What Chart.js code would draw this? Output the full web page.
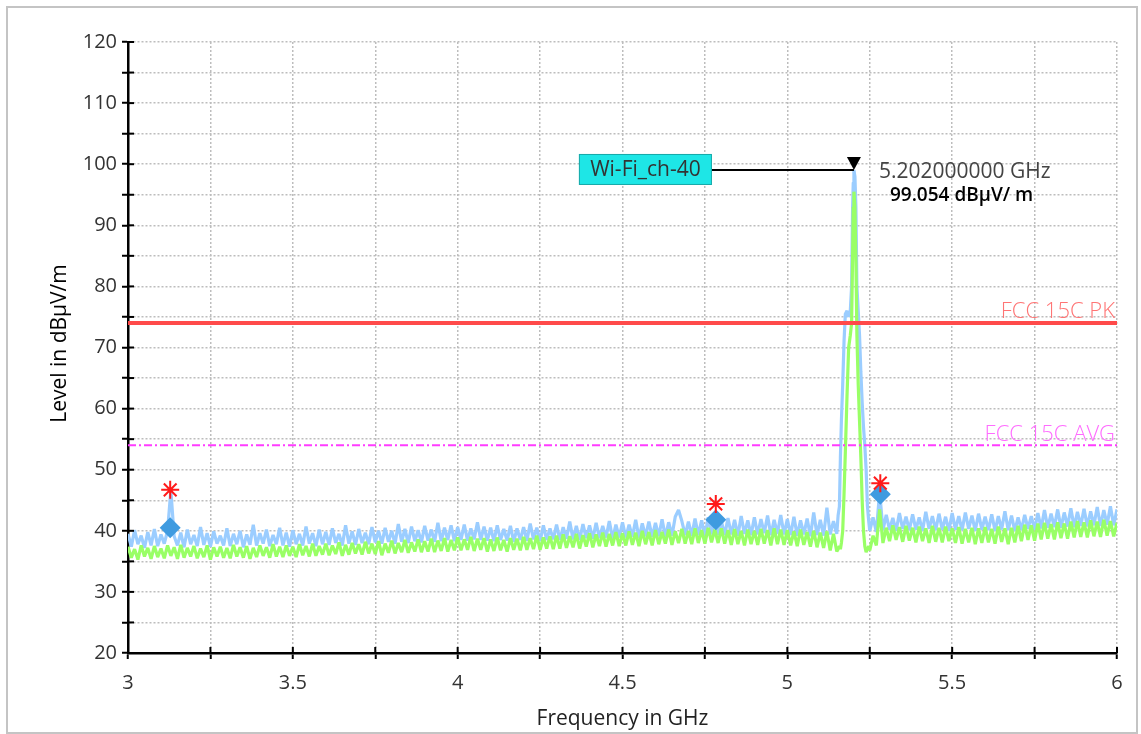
<!DOCTYPE html>
<html>
<head>
<meta charset="utf-8">
<script src="https://cdn.jsdelivr.net/npm/chart.js@4"></script>
<style>
  html, body { margin: 0; padding: 0; background: #fff; }
  #wrap { width: 1141px; height: 734px; position: relative; }
</style>
</head>
<body>
<div id="wrap"><canvas id="scan"></canvas></div>
<script>
// sweep grid (GHz)
const sweepStep = 0.01;
const lowStart = 3.00;   // pkLow / avLow start here
const highStart = 5.25;  // pkHigh / avHigh start here

// peak detector trace, 3.00 .. 5.15 GHz
const pkLow = [
  39.5, 37.4, 40.1, 37.8, 39.2, 37.2, 39.8, 37.6, 40.3, 37.5,
  39.4, 37.9, 40.0, 46.6, 39.1, 37.6, 39.7, 37.3, 40.2, 37.8,
  39.3, 37.5, 40.6, 37.7, 39.6, 37.4, 39.9, 37.9, 39.2, 37.6,
  40.4, 37.5, 39.5, 37.8, 40.0, 37.3, 39.4, 37.7, 41.0, 37.6,
  39.6, 37.9, 40.2, 37.5, 39.3, 37.8, 40.5, 37.6, 39.7, 37.4,
  40.1, 37.8, 39.5, 37.6, 40.7, 37.9, 39.6, 37.5, 40.2, 37.8,
  39.8, 37.7, 40.4, 38.0, 39.5, 37.6, 40.9, 37.9, 39.9, 37.7,
  40.3, 38.0, 39.7, 37.8, 40.6, 38.1, 40.0, 37.9, 40.5, 38.2,
  40.0, 37.9, 41.1, 38.2, 40.3, 38.0, 40.7, 38.3, 40.1, 38.1,
  40.8, 38.4, 40.2, 38.2, 41.3, 38.3, 40.5, 38.5, 40.9, 38.3,
  40.6, 38.5, 41.0, 38.4, 40.4, 38.6, 41.4, 38.5, 40.7, 38.4,
  40.5, 38.3, 40.9, 38.5, 40.3, 38.4, 40.8, 38.2, 40.4, 38.5,
  40.6, 38.4, 41.2, 38.6, 40.5, 38.3, 40.9, 38.5, 40.4, 38.6,
  41.0, 38.5, 40.6, 38.7, 41.5, 38.6, 40.8, 38.5, 41.1, 38.8,
  40.9, 38.7, 41.3, 38.8, 40.8, 38.9, 41.6, 38.7, 41.0, 38.9,
  41.4, 38.9, 41.0, 39.0, 41.8, 38.8, 41.2, 39.1, 41.5, 39.0,
  41.3, 39.1, 41.9, 39.0, 41.4, 39.2, 42.3, 43.4, 41.6, 39.3,
  41.5, 39.2, 42.0, 39.3, 41.7, 39.1, 42.2, 39.4, 42.6, 39.3,
  41.6, 39.3, 42.1, 39.4, 41.8, 39.2, 42.4, 39.5, 41.7, 39.3,
  42.2, 39.4, 41.9, 39.6, 42.5, 39.3, 41.8, 39.5, 42.6, 39.4,
  41.9, 39.3, 42.3, 39.2, 41.7, 39.4, 42.0, 39.1, 43.0, 39.3,
  41.8, 39.2, 43.8, 39.4, 41.6, 39.5
];
// average detector trace, 3.00 .. 5.15 GHz
const avLow = [
  37.4, 35.6, 37.0, 35.3, 37.6, 35.8, 37.2, 35.4, 37.5, 35.7,
  37.1, 35.5, 37.6, 35.9, 37.3, 35.4, 37.7, 35.6, 37.2, 35.8,
  37.5, 35.5, 37.1, 35.7, 37.6, 35.3, 37.3, 35.8, 37.4, 35.6,
  37.2, 35.5, 37.7, 35.8, 37.3, 35.6, 37.5, 35.4, 37.2, 35.7,
  37.6, 35.9, 37.3, 35.6, 37.8, 35.8, 37.4, 35.7, 37.6, 35.9,
  37.4, 35.7, 37.8, 36.0, 37.5, 35.8, 37.9, 35.9, 37.5, 36.1,
  37.9, 36.0, 37.6, 36.2, 38.1, 35.9, 37.7, 36.1, 38.0, 36.3,
  37.8, 36.1, 38.2, 36.3, 37.9, 36.2, 38.3, 36.0, 37.9, 36.4,
  38.4, 36.3, 38.0, 36.5, 38.5, 36.4, 38.1, 36.6, 38.6, 36.5,
  38.3, 36.6, 38.7, 36.5, 38.4, 36.7, 38.8, 36.6, 38.5, 36.8,
  38.9, 36.8, 38.6, 36.9, 39.0, 36.7, 38.7, 36.9, 38.8, 36.6,
  38.6, 36.7, 38.9, 36.8, 38.5, 36.6, 38.8, 36.9, 38.7, 36.8,
  39.0, 36.9, 38.8, 37.0, 39.2, 36.9, 38.9, 37.1, 39.1, 37.0,
  39.2, 37.1, 39.4, 37.2, 39.1, 37.3, 39.5, 37.1, 39.3, 37.4,
  39.6, 37.3, 39.4, 37.5, 39.7, 37.4, 39.5, 37.6, 39.8, 37.5,
  39.6, 37.6, 39.9, 37.7, 39.7, 37.5, 40.0, 37.8, 39.8, 37.6,
  40.1, 37.8, 39.8, 37.9, 40.2, 37.7, 39.9, 38.0, 40.3, 37.9,
  40.0, 37.8, 40.4, 38.0, 40.1, 37.9, 40.5, 38.1, 40.2, 38.0,
  40.4, 37.9, 40.1, 37.7, 40.3, 37.8, 40.0, 37.6, 40.2, 37.8,
  40.0, 37.7, 40.3, 37.9, 40.1, 37.6, 40.4, 37.8, 40.2, 37.7,
  40.1, 37.6, 39.9, 37.5, 40.2, 37.7, 39.8, 37.4, 40.0, 37.3,
  39.7, 37.2, 39.9, 36.8, 39.5, 36.6
];

// Wi-Fi burst around 5.2 GHz
const burstFreqs = [
  5.154, 5.158, 5.161, 5.164, 5.168, 5.172, 5.176, 5.181, 5.186, 5.191,
  5.195, 5.198, 5.200, 5.202, 5.205, 5.208, 5.211, 5.215, 5.219, 5.223,
  5.227, 5.231, 5.235, 5.239, 5.243, 5.247
];
const pkBurst = [
  42.5, 44.0, 52.0, 58.0, 64.0, 71.0, 75.5, 76.0, 75.0, 76.0,
  80.0, 93.0, 97.0, 99.05, 98.0, 93.0, 80.0, 76.0, 72.0, 66.0,
  61.0, 57.0, 54.0, 50.0, 44.0, 41.5
];
const avBurst = [
  37.0, 37.5, 37.0, 38.0, 40.0, 46.0, 53.0, 62.0, 70.0, 72.0,
  74.0, 85.0, 93.0, 95.5, 93.0, 84.0, 72.0, 64.0, 58.0, 52.0,
  45.0, 40.0, 37.5, 36.5, 37.0, 37.5
];

// 5.25 .. 6.00 GHz
const pkHigh = [
  40.0, 42.2, 39.8, 46.4, 40.1,
  42.6, 40.2, 42.1, 40.0, 42.9, 40.3, 42.3, 40.1, 42.7, 40.2,
  42.2, 40.0, 43.1, 40.3, 42.4, 40.1, 42.8, 40.2, 42.3, 40.0,
  42.9, 40.2, 42.4, 40.1, 43.0, 40.3, 42.5, 40.0, 42.8, 40.2,
  42.3, 40.1, 42.7, 40.0, 42.4, 40.2, 43.2, 40.1, 42.5, 40.0,
  42.2, 40.1, 42.6, 40.3, 42.4, 40.2, 42.9, 40.4, 43.4, 40.5,
  42.8, 40.6, 43.5, 40.5, 43.0, 40.7, 43.7, 40.6, 43.1, 40.8,
  43.6, 40.7, 43.2, 40.9, 43.9, 40.8, 43.4, 41.0, 44.0, 40.9,
  43.5
];
const avHigh = [
  36.8, 39.2, 37.6, 43.5, 38.0,
  40.5, 38.3, 40.9, 38.5, 40.6, 38.2, 40.8, 38.4, 40.5, 38.1,
  40.7, 38.3, 40.4, 38.0, 40.8, 38.2, 40.5, 38.1, 40.7, 38.3,
  40.4, 38.0, 40.6, 37.9, 40.3, 38.1, 40.5, 37.8, 40.4, 38.0,
  40.6, 38.1, 40.3, 37.9, 40.7, 38.2, 40.4, 37.8, 40.5, 38.1,
  40.8, 38.3, 41.0, 38.5, 40.9, 38.4, 41.2, 38.6, 41.3, 38.7,
  41.1, 38.6, 41.4, 38.8, 41.2, 38.7, 41.5, 38.9, 41.6, 39.0,
  41.4, 38.9, 41.7, 39.1, 41.5, 39.0, 41.8, 39.2, 41.6, 39.1,
  41.3
];

// final measurement points
const finalFreqs = [3.128, 4.783, 5.282];
const finalPk = [46.7, 44.4, 47.8];
const finalAv = [40.5, 41.8, 46.0];

// limits
const pkLimit = 74;
const avLimit = 54;

// peak marker
const markerFreq = 5.202;
const markerLevel = 99.054;
const markerName = 'Wi-Fi_ch-40';

const FONT = '"Open Sans", "DejaVu Sans", sans-serif';

function sweep(start, vals) {
  return vals.map((v, i) => ({ x: +(start + i * sweepStep).toFixed(3), y: v }));
}
function pairs(xs, ys) {
  return xs.map((f, i) => ({ x: f, y: ys[i] }));
}

const pkTrace = [...sweep(lowStart, pkLow), ...pairs(burstFreqs, pkBurst), ...sweep(highStart, pkHigh)];
const avTrace = [...sweep(lowStart, avLow), ...pairs(burstFreqs, avBurst), ...sweep(highStart, avHigh)];

const decor = {
  id: 'decor',
  beforeDraw(chart) {
    const ctx = chart.ctx;
    ctx.save();
    ctx.fillStyle = '#fff';
    ctx.fillRect(0, 0, chart.width, chart.height);
    ctx.strokeStyle = '#c4c4c4';
    ctx.lineWidth = 2;
    ctx.strokeRect(7, 7, chart.width - 11, chart.height - 8);
    ctx.restore();
  },
  afterDraw(chart) {
    const { ctx, chartArea: a, scales: { x, y } } = chart;
    ctx.save();
    // inner halves of the tick marks
    ctx.strokeStyle = '#000';
    ctx.lineWidth = 2;
    y.ticks.forEach(t => {
      const py = y.getPixelForValue(t.value);
      ctx.beginPath(); ctx.moveTo(a.left, py); ctx.lineTo(a.left + 6, py); ctx.stroke();
    });
    x.ticks.forEach(t => {
      const px = x.getPixelForValue(t.value);
      ctx.beginPath(); ctx.moveTo(px, a.bottom); ctx.lineTo(px, a.bottom - 6); ctx.stroke();
    });

    // limit labels
    ctx.font = '300 22px ' + FONT;
    ctx.textAlign = 'right';
    ctx.textBaseline = 'alphabetic';
    ctx.fillStyle = '#ff7474';
    ctx.fillText('FCC 15C PK', a.right - 2, y.getPixelForValue(pkLimit) - 5);
    ctx.fillStyle = '#ff6cff';
    ctx.fillText('FCC 15C AVG', a.right - 2, y.getPixelForValue(avLimit) - 4);

    // peak marker callout
    const mx = x.getPixelForValue(markerFreq);
    const my = y.getPixelForValue(markerLevel);
    const boxW = 133, boxH = 31, boxR = mx - 142;
    ctx.strokeStyle = '#000';
    ctx.lineWidth = 2;
    ctx.beginPath(); ctx.moveTo(boxR, my); ctx.lineTo(mx, my); ctx.stroke();
    ctx.fillStyle = '#1ee6e6';
    ctx.fillRect(boxR - boxW, my - 16, boxW, boxH);
    ctx.strokeStyle = '#19a9a9';
    ctx.lineWidth = 1;
    ctx.strokeRect(boxR - boxW + 0.5, my - 15.5, boxW - 1, boxH - 1);
    ctx.fillStyle = '#333';
    ctx.textAlign = 'center';
    ctx.textBaseline = 'middle';
    ctx.font = '21px ' + FONT;
    ctx.fillText(markerName, boxR - boxW / 2, my);
    // triangle
    ctx.fillStyle = '#000';
    ctx.beginPath();
    ctx.moveTo(mx, my);
    ctx.lineTo(mx - 7, my - 13);
    ctx.lineTo(mx + 7, my - 13);
    ctx.closePath();
    ctx.fill();
    // readout
    ctx.textAlign = 'left';
    ctx.fillStyle = '#444';
    ctx.font = '21px ' + FONT;
    ctx.fillText(markerFreq.toFixed(9) + ' GHz', mx + 25, my + 2);
    ctx.fillStyle = '#000';
    ctx.font = '600 19px ' + FONT;
    ctx.fillText(markerLevel.toFixed(3) + ' dBµV/ m', mx + 36, my + 26);

    // axis titles
    ctx.font = '21px ' + FONT;
    ctx.fillStyle = '#222';
    ctx.textAlign = 'center';
    ctx.fillText('Frequency in GHz', (a.left + a.right) / 2, 719);
    ctx.save();
    ctx.translate(60, (a.top + a.bottom) / 2 - 4);
    ctx.rotate(-Math.PI / 2);
    ctx.fillStyle = '#000';
    ctx.fillText('Level in dBµV/m', 0, 0);
    ctx.restore();
    ctx.restore();
  }
};

const gridOpts = {
  color: '#bdbdbd',
  lineWidth: 1.5,
  tickColor: '#000',
  tickWidth: 2,
  tickLength: 6,
  tickBorderDash: []
};

const traceStyle = {
  borderWidth: 3.2,
  borderJoinStyle: 'bevel',
  pointRadius: 0,
  tension: 0
};

new Chart(document.getElementById('scan'), {
  type: 'line',
  data: {
    datasets: [
      {
        data: pairs(finalFreqs, finalPk),
        showLine: false,
        pointStyle: 'star',
        pointRadius: 9,
        pointBorderWidth: 2,
        borderColor: '#ff1a1a',
        backgroundColor: '#ff1a1a'
      },
      {
        data: pairs(finalFreqs, finalAv),
        showLine: false,
        pointStyle: 'rectRot',
        pointRadius: 10.5,
        pointBorderWidth: 0,
        borderColor: '#3f9be0',
        backgroundColor: '#3f9be0'
      },
      {
        data: [{ x: 3, y: pkLimit }, { x: 6, y: pkLimit }],
        borderColor: '#ff4a4a',
        borderWidth: 4,
        pointRadius: 0
      },
      {
        data: [{ x: 3, y: avLimit }, { x: 6, y: avLimit }],
        borderColor: '#ff3cff',
        borderWidth: 2,
        borderDash: [8, 3, 2, 3],
        pointRadius: 0
      },
      { data: avTrace, borderColor: '#99ff66', ...traceStyle },
      { data: pkTrace, borderColor: '#9bcdff', ...traceStyle }
    ]
  },
  options: {
    responsive: true,
    maintainAspectRatio: false,
    animation: false,
    layout: { padding: { left: 0, top: 42, right: 24, bottom: 0 } },
    plugins: { legend: { display: false }, tooltip: { enabled: false } },
    scales: {
      x: {
        type: 'linear',
        min: 3,
        max: 6,
        afterFit: s => { s.height = 81; },
        grid: gridOpts,
        border: { color: '#000', width: 2.5, dash: [2, 2] },
        ticks: {
          stepSize: 0.25,
          autoSkip: false,
          maxRotation: 0,
          padding: 12,
          color: '#333',
          font: { family: FONT, size: 20 },
          callback: v => (Math.round(v * 4) % 2 === 0 ? String(+v.toFixed(2)) : '')
        }
      },
      y: {
        min: 20,
        max: 120,
        afterFit: s => { s.width = 128; },
        grid: gridOpts,
        border: { color: '#000', width: 2.5, dash: [2, 2] },
        ticks: {
          stepSize: 5,
          autoSkip: false,
          padding: 5,
          color: '#333',
          font: { family: FONT, size: 20 },
          callback: v => (v % 10 === 0 ? String(v) : '')
        }
      }
    }
  },
  plugins: [decor]
});
</script>
</body>
</html>
